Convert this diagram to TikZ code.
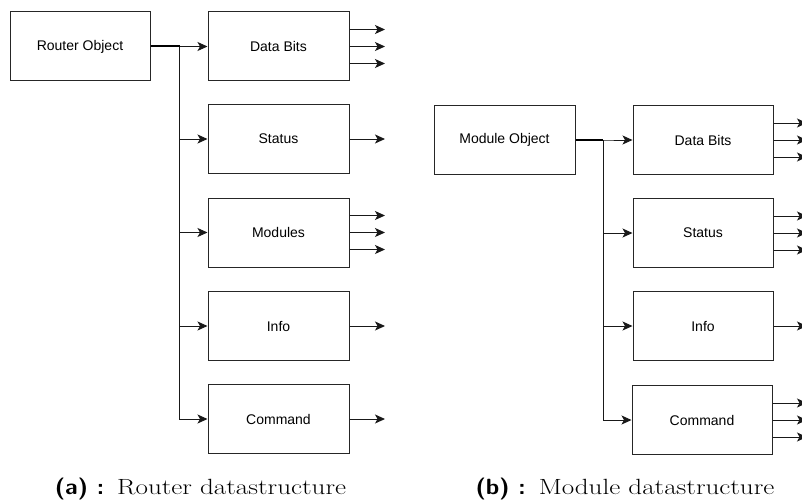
\documentclass[tikz,border=0pt]{standalone}
\usepackage{fontspec}
\newfontfamily\boxfont{Liberation Sans}
\usetikzlibrary{arrows.meta}
\tikzset{
  blk/.style={draw=black!85, line width=1pt, minimum width=141pt, minimum height=69pt,
              inner sep=0pt, font=\boxfont\fontsize{14}{16}\selectfont},
  link/.style={draw=black!90, line width=1pt,
               -{Stealth[length=10pt,width=9pt,inset=2.5pt]}},
  trunk/.style={draw=black, line width=2pt},
  captxt/.style={anchor=base, inner sep=0pt, font=\fontsize{22}{26}\selectfont}
}
\newcommand{\fanout}[2]{% three outgoing arrows from the east side of #1, ending at x=#2
  \foreach \dy in {-17,0,17}{
    \draw[link] ([yshift=\dy pt]#1.east) -- ([yshift=\dy pt]#1.east -| #2,0);
  }}
\newcommand{\single}[2]{\draw[link] (#1.east) -- (#1.east -| #2,0);}
\newcommand{\subcap}[2]{\scalebox{1.09}[1]{\sffamily\bfseries (#1) :}\hspace{13pt}\scalebox{1.23}[1]{#2}}
\begin{document}
\begin{tikzpicture}[x=1pt,y=-1pt]
\useasboundingbox (0,0) rectangle (802,500);

% ---- router datastructure ----
\node[blk, minimum width=140pt] (rt) at (80,46.5) {Router Object};
\node[blk] (ra) at (278.5,46.5) {Data Bits};
\node[blk] (rb) at (278.5,139) {Status};
\node[blk] (rc) at (278.5,232.5) {Modules};
\node[blk] (rd) at (278.5,326) {Info};
\node[blk] (re) at (278.5,419) {Command};
\coordinate (rj) at (179.5,46.5);
\foreach \t in {ra,rb,rc,rd,re}{
  \draw[link] (rt.east) -- (rj) |- (\t.west);
}
\draw[trunk] (rt.east) -- (rj);
\fanout{ra}{385}
\single{rb}{385}
\fanout{rc}{385}
\single{rd}{385}
\single{re}{385}

% ---- module datastructure ----
\node[blk] (mt) at (504.5,140) {Module Object};
\node[blk, minimum width=140pt] (ma) at (703,140) {Data Bits};
\node[blk, minimum width=140pt] (mb) at (703,233) {Status};
\node[blk, minimum width=140pt] (mc) at (703,326) {Info};
\node[blk, minimum width=140pt] (md) at (702,420) {Command};
\coordinate (mj) at (603,140);
\foreach \t in {ma,mb,mc,md}{
  \draw[link] (mt.east) -- (mj) |- (\t.west);
}
\draw[trunk] (mt.east) -- (mj);
\fanout{ma}{807}
\fanout{mb}{807}
\single{mc}{807}
\fanout{md}{807}

% ---- captions ----
\node[captxt] (ca) at (200.5,494) {\subcap{a}{Router datastructure}};
\node[captxt] (cb) at (625,494) {\subcap{b}{Module datastructure}};
\end{tikzpicture}
\end{document}
